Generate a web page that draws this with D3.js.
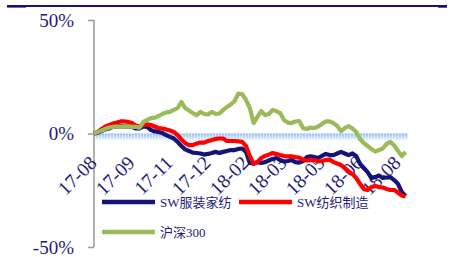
<!DOCTYPE html>
<html>
<head>
<meta charset="utf-8">
<script src="https://cdn.jsdelivr.net/npm/d3@7/dist/d3.min.js"></script>
<style>
  body { margin: 0; background: #fff; }
  svg { display: block; }
</style>
</head>
<body>
<div class="canva"></div>
<script>
// tick labels (one every 10 samples)
const tickLabels = ["17-08", "17-09", "17-11", "17-12", "18-02", "18-03", "18-05", "18-06", "18-08"];
const seriesNames = ["SW服装家纺", "SW纺织制造", "沪深300"];

// cumulative change, %
const swFuzhuang = [0, 0.4, 1.1, 1.8, 2.2, 2.9, 3.1, 3.1, 3.1, 3.1,
  2.9, 2.2, 2.2, 3.1, 2.9, 1.5, 0.9, 0.7, 0.2, -0.7,
  -1.5, -2.2, -3.7, -5.5, -7.0, -7.7, -8.4, -8.6, -8.8, -9.3,
  -9.0, -8.6, -8.1, -8.6, -8.1, -7.7, -7.3, -7.3, -6.8, -6.6,
  -8.1, -13.0, -13.2, -12.6, -13.0, -12.6, -11.9, -11.2, -10.8, -11.7,
  -12.3, -12.1, -11.7, -12.6, -12.8, -12.1, -10.4, -10.1, -10.4, -10.8,
  -9.9, -9.0, -9.5, -9.5, -8.8, -8.1, -8.8, -9.5, -8.8, -9.9,
  -13.4, -15.2, -17.0, -19.6, -19.2, -18.5, -19.6, -19.4, -19.2, -20.5,
  -22.2, -25.8, -27.5];
const swFangzhi = [0, 0.7, 2.0, 3.1, 3.7, 4.4, 4.8, 5.3, 5.3, 5.1,
  4.6, 3.5, 3.1, 3.7, 4.0, 3.7, 3.1, 2.4, 2.2, 1.8,
  1.3, 0.7, -0.7, -2.6, -4.2, -5.1, -5.1, -4.4, -4.0, -4.0,
  -3.3, -2.9, -2.4, -2.2, -2.2, -3.3, -3.3, -3.3, -3.5, -3.7,
  -5.5, -9.9, -13.4, -12.6, -10.8, -9.9, -9.3, -8.6, -9.0, -9.5,
  -9.9, -10.1, -10.1, -10.4, -10.6, -11.5, -11.9, -11.7, -11.7, -12.3,
  -12.1, -11.7, -11.5, -12.6, -13.2, -13.9, -15.2, -16.7, -17.8, -19.6,
  -22.2, -24.4, -24.9, -23.6, -23.1, -23.6, -23.8, -24.4, -24.9, -24.9,
  -26.0, -27.3, -27.8];
const hs300 = [0, 0.7, 1.3, 2.0, 2.6, 2.9, 3.1, 2.9, 3.1, 3.1,
  2.9, 2.9, 2.6, 5.1, 6.0, 6.8, 7.0, 7.7, 8.6, 9.3,
  9.5, 10.4, 11.2, 13.9, 11.2, 10.1, 9.0, 8.1, 9.5, 8.6,
  8.4, 9.5, 8.6, 8.8, 10.4, 11.7, 12.8, 14.3, 17.6, 17.4,
  14.8, 11.2, 4.6, 7.3, 9.9, 8.1, 8.6, 10.4, 9.9, 9.0,
  5.9, 4.8, 4.6, 5.3, 5.5, 2.4, 2.0, 2.6, 2.4, 3.1,
  4.2, 5.3, 5.3, 4.6, 3.3, 1.1, 2.4, 3.3, 2.2, 0.7,
  -2.4, -4.2, -5.5, -6.8, -7.9, -7.3, -6.6, -4.6, -3.7, -5.3,
  -7.7, -9.9, -8.1];
const yTicks = [50, 0, -50];

document.addEventListener("DOMContentLoaded", function(event) {
  const navy = "#14137a";
  const textColor = "#1e1b7b";
  const colors = [navy, "#ff0000", "#9bbb59"];

  const svg = d3.select(".canva")
    .append("svg")
    .attr("width", 457)
    .attr("height", 257);

  const x = d3.scaleLinear().domain([0, swFuzhuang.length - 1]).range([94, 405.6]);
  const y = d3.scaleLinear().domain([-50, 50]).range([247, 20]);

  // top rule
  svg.append("rect").attr("x", 7).attr("y", 5).attr("width", 440).attr("height", 2).attr("fill", "#1a0f80");
  svg.append("rect").attr("x", 7).attr("y", 5).attr("width", 19).attr("height", 2.6).attr("fill", "#1a0f80");
  svg.append("rect").attr("x", 438).attr("y", 5).attr("width", 9).attr("height", 2.7).attr("fill", "#1a0f80");

  // zero band
  const defs = svg.append("defs");
  const grad = defs.append("linearGradient").attr("id", "zeroGrad")
    .attr("x1", 0).attr("y1", 0).attr("x2", 0).attr("y2", 1);
  grad.append("stop").attr("offset", "0%").attr("stop-color", "#93bcf0");
  grad.append("stop").attr("offset", "100%").attr("stop-color", "#f3f8fe");
  const pat = defs.append("pattern").attr("id", "stripes")
    .attr("width", 3).attr("height", 10).attr("patternUnits", "userSpaceOnUse");
  pat.append("rect").attr("x", 2).attr("width", 1).attr("height", 10).attr("fill", "#fff").attr("opacity", 0.55);

  svg.append("rect").attr("x", 94).attr("y", y(0)).attr("width", 314).attr("height", 7)
    .attr("fill", "url(#zeroGrad)");
  svg.append("rect").attr("x", 94).attr("y", y(0)).attr("width", 314).attr("height", 7)
    .attr("fill", "url(#stripes)");

  // y axis
  const yAxis = d3.axisLeft(y).tickValues(yTicks).tickSize(6).tickFormat(d => d + "%");
  const gy = svg.append("g").attr("transform", "translate(94,0)").call(yAxis);
  gy.select(".domain").attr("stroke", "#999").attr("stroke-width", 1.5).attr("d", "M0," + y(50) + "V" + y(-50));
  gy.selectAll(".tick line").attr("stroke", "#999").attr("stroke-width", 1.5);
  gy.selectAll(".tick text")
    .attr("x", -20)
    .attr("fill", textColor)
    .attr("font-family", "'Liberation Serif', 'DejaVu Serif', serif")
    .attr("font-size", 19);

  // x labels
  svg.append("g").selectAll("text")
    .data(tickLabels)
    .enter()
    .append("text")
    .attr("transform", (d, i) => "translate(" + (x(i * 10) + 4) + ",164) rotate(-45)")
    .attr("text-anchor", "end")
    .attr("fill", textColor)
    .attr("font-family", "'Liberation Serif', 'DejaVu Serif', serif")
    .attr("font-size", 19.5)
    .text(d => d);

  // lines
  const line = d3.line().x((d, i) => x(i)).y(d => y(d));
  [swFuzhuang, swFangzhi, hs300].forEach((s, k) => {
    svg.append("path")
      .datum(s)
      .attr("d", line)
      .attr("fill", "none")
      .attr("stroke", colors[k])
      .attr("stroke-width", 4.2)
      .attr("stroke-linejoin", "round");
  });

  // legend
  const legendPos = [[102, 202], [239, 202], [102, 232]];
  const leg = svg.append("g").selectAll("g")
    .data(seriesNames)
    .enter()
    .append("g")
    .attr("transform", (d, i) => "translate(" + legendPos[i][0] + "," + legendPos[i][1] + ")");
  leg.append("line")
    .attr("x1", 0).attr("x2", 53)
    .attr("stroke", (d, i) => colors[i])
    .attr("stroke-width", 4.5);
  leg.append("text")
    .attr("x", 58)
    .attr("dy", "0.35em")
    .attr("fill", textColor)
    .attr("font-family", "'Liberation Serif', 'Noto Sans CJK SC', serif")
    .attr("font-size", 13)
    .text(d => d);
});
</script>
</body>
</html>
